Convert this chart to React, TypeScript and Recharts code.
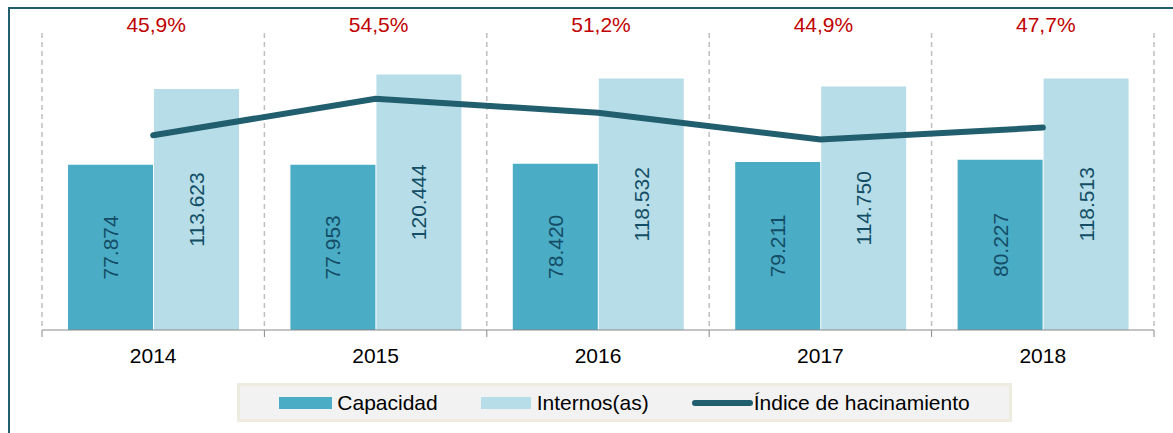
import React from "react";
import { ComposedChart, Bar, Line, XAxis, YAxis, CartesianGrid, LabelList } from "recharts";

// values
const years = ["2014", "2015", "2016", "2017", "2018"];
const capacidad = [77874, 77953, 78420, 79211, 80227];
const internos = [113623, 120444, 118532, 114750, 118513];
const indice = [45.9, 54.5, 51.2, 44.9, 47.7];
const boundaryTicks = [0, 1, 2, 3, 4, 5];

const seriesNames = ["Capacidad", "Internos(as)", "Índice de hacinamiento"];
const colors = { cap: "#4BACC6", int: "#B7DEE8", line: "#215E6E" };

const data = years.map((year, i) => ({
  year,
  capacidad: capacidad[i],
  internos: internos[i],
  indice: indice[i],
}));

const font = "'Liberation Sans', Arial, sans-serif";
const chartW = 1173;
const chartH = 433;
const margin = { top: 3, right: 19, left: 42, bottom: 46 };
const plotW = chartW - margin.left - margin.right;

const fmtThousands = (v: number) => String(v).replace(/\B(?=(\d{3})+(?!\d))/g, ".");
const fmtPct = (v: number) => v.toFixed(1).replace(".", ",") + "%";

const PercentTick = (props: any) => {
  const { x, y, payload } = props;
  const i = years.indexOf(payload.value);
  return (
    <text x={x + 3} y={y - 1} textAnchor="middle" fill="#C00000" fontSize={21} fontFamily={font}>
      {fmtPct(indice[i])}
    </text>
  );
};

// year label plus the small tick marks that sit on the category boundaries
const YearTick = (props: any) => {
  const { x, y, payload, index } = props;
  const count = props.visibleTicksCount || years.length;
  const half = plotW / count / 2;
  const axisY = y - 12;
  return (
    <g>
      <line x1={x - half} x2={x - half} y1={axisY} y2={axisY + 7} stroke="#898989" />
      {index === count - 1 && <line x1={x + half} x2={x + half} y1={axisY} y2={axisY + 7} stroke="#898989" />}
      <text x={x} y={y + 21} textAnchor="middle" fill="#000" fontSize={21} fontFamily={font}>
        {payload.value}
      </text>
    </g>
  );
};

const VerticalLabel = (props: any) => {
  const { x, y, width, height, value } = props;
  const cx = x + width / 2;
  const cy = y + height / 2;
  return (
    <text
      x={cx}
      y={cy}
      transform={`rotate(-90, ${cx}, ${cy})`}
      textAnchor="middle"
      dominantBaseline="central"
      fill="#144E66"
      fontSize={21}
      fontFamily={font}
    >
      {fmtThousands(value)}
    </text>
  );
};

const LegendBox = () => (
  <div
    style={{
      position: "absolute",
      left: 237,
      top: 383,
      width: 769,
      height: 33,
      background: "#F2F2F2",
      border: "3px solid #EEECE1",
      display: "flex",
      alignItems: "center",
      justifyContent: "center",
      gap: 43,
      fontFamily: font,
      fontSize: 21,
      color: "#000",
    }}
  >
    <span style={{ display: "flex", alignItems: "center" }}>
      <span style={{ width: 53, height: 12, background: colors.cap, marginRight: 5 }} />
      {seriesNames[0]}
    </span>
    <span style={{ display: "flex", alignItems: "center" }}>
      <span style={{ width: 50, height: 12, background: colors.int, marginRight: 6 }} />
      {seriesNames[1]}
    </span>
    <span style={{ display: "flex", alignItems: "center" }}>
      <span style={{ width: 61, height: 6, borderRadius: 3, background: colors.line, marginRight: 1 }} />
      {seriesNames[2]}
    </span>
  </div>
);

const App = () => {
  return (
    <div style={{ position: "absolute", left: 0, top: 0, width: chartW, height: chartH, background: "#fff" }}>
      <div
        style={{
          position: "absolute",
          left: 8,
          top: 7,
          width: 1165,
          height: 426,
          borderTop: "2px solid #215E6E",
          borderLeft: "2px solid #215E6E",
          boxSizing: "border-box",
        }}
      />
      <div style={{ position: "absolute", left: 0, top: 0 }}>
        <ComposedChart width={chartW} height={chartH} data={data} margin={margin} barSize={85} barGap={1}>
          <XAxis
            xAxisId="cat"
            dataKey="year"
            axisLine={{ stroke: "#898989" }}
            tickLine={false}
            tickSize={7}
            tickMargin={5}
            height={57}
            tick={<YearTick />}
          />
          <XAxis
            xAxisId="top"
            dataKey="year"
            orientation="top"
            axisLine={false}
            tickLine={false}
            tickSize={0}
            tickMargin={0}
            height={30}
            tick={<PercentTick />}
          />
          <YAxis yAxisId="left" hide domain={[0, 140000]} />
          <YAxis yAxisId="right" hide orientation="right" domain={[0, 70]} />
          <CartesianGrid
            xAxisId="cat"
            yAxisId="left"
            horizontal={false}
            stroke="#BFBFBF"
            strokeWidth={1.5}
            strokeDasharray="5 4"
            verticalCoordinatesGenerator={({ offset }: any) =>
              boundaryTicks.map((i) => offset.left + (offset.width * i) / years.length)
            }
          />
          <Bar xAxisId="cat" yAxisId="left" dataKey="capacidad" fill={colors.cap} isAnimationActive={false}>
            <LabelList dataKey="capacidad" content={<VerticalLabel />} />
          </Bar>
          <Bar xAxisId="cat" yAxisId="left" dataKey="internos" fill={colors.int} isAnimationActive={false}>
            <LabelList dataKey="internos" content={<VerticalLabel />} />
          </Bar>
          <Line
            xAxisId="cat"
            yAxisId="right"
            type="linear"
            dataKey="indice"
            stroke={colors.line}
            strokeWidth={6}
            strokeLinecap="round"
            dot={false}
            activeDot={false}
            isAnimationActive={false}
          />
        </ComposedChart>
      </div>
      <LegendBox />
    </div>
  );
};

export default App;
